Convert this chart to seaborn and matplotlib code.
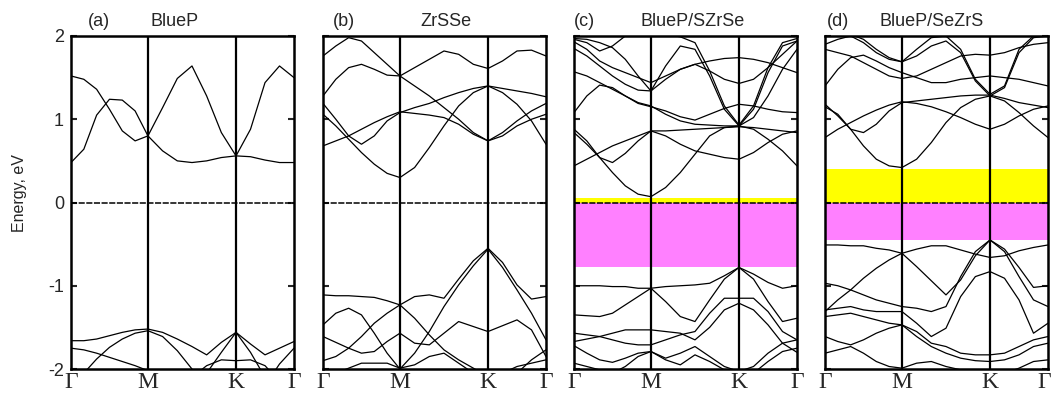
import numpy as np
import pandas as pd
import matplotlib
matplotlib.use("Agg")
import matplotlib.pyplot as plt
import matplotlib.transforms as mtransforms
import seaborn as sns

# ---------------- data ----------------
# k-path nodes (fraction of path length): Gamma-M (7), M-K (6 more), K-Gamma (4 more)
k_path = [0.0, 0.0575, 0.115, 0.1725, 0.23, 0.2875, 0.345,
          0.4108, 0.4767, 0.5425, 0.6083, 0.6742, 0.74,
          0.805, 0.87, 0.935, 1.0]
kpoint_pos = [0.0, 0.345, 0.74, 1.0]
kpoint_labels = ["Γ", "M", "K", "Γ"]
energy_ticks = [-2, -1, 0, 1, 2]
energy_ticklabels = ["-2", "-1", "0", "1", "2"]

panel_tags = ["(a)", "(b)", "(c)", "(d)"]
panel_names = ["BlueP", "ZrSSe", "BlueP/SZrSe", "BlueP/SeZrS"]

# (a) BlueP
a_c1 = [1.52, 1.48, 1.36, 1.12, 0.86, 0.74, 0.80, 0.62, 0.50, 0.48, 0.50, 0.54, 0.56, 0.55, 0.51, 0.48, 0.48]
a_c2 = [0.48, 0.64, 1.05, 1.24, 1.23, 1.10, 0.80, 1.14, 1.49, 1.64, 1.28, 0.84, 0.56, 0.88, 1.44, 1.64, 1.50]
a_v1 = [-1.66, -1.66, -1.64, -1.60, -1.56, -1.53, -1.52, -1.56, -1.64, -1.73, -1.83, -1.68, -1.56, -1.70, -1.83, -1.75, -1.67]
a_v2 = [-1.75, -1.77, -1.81, -1.86, -1.91, -1.96, -2.02, -2.20, -2.40, -2.50, -2.50, -2.50, -2.50, -2.40, -2.20, -1.94, -1.75]
a_v3 = [-2.40, -2.05, -1.88, -1.74, -1.64, -1.57, -1.54, -1.61, -1.78, -2.00, -2.20, -2.40, -2.50, -2.50, -2.50, -2.50, -2.50]
a_v4 = [-2.50, -2.50, -2.50, -2.50, -2.50, -2.50, -2.50, -2.50, -2.50, -2.30, -2.05, -1.80, -1.56, -1.80, -2.10, -2.40, -2.50]
a_v5 = [-2.50, -2.50, -2.50, -2.50, -2.50, -2.50, -2.50, -2.50, -2.30, -2.10, -1.96, -1.89, -1.90, -1.89, -1.96, -2.15, -2.40]

# (b) ZrSSe
b_c1 = [1.76, 1.88, 1.98, 1.94, 1.80, 1.66, 1.52, 1.62, 1.72, 1.82, 1.78, 1.66, 1.61, 1.70, 1.82, 1.83, 1.76]
b_c2 = [1.28, 1.48, 1.62, 1.66, 1.60, 1.53, 1.52, 1.40, 1.28, 1.14, 1.00, 0.84, 0.74, 0.84, 0.98, 1.10, 1.19]
b_c3 = [1.19, 1.00, 0.80, 0.70, 0.80, 0.98, 1.08, 1.14, 1.19, 1.26, 1.32, 1.37, 1.40, 1.37, 1.34, 1.31, 1.27]
b_c4 = [0.68, 0.74, 0.80, 0.88, 0.96, 1.03, 1.09, 1.07, 1.05, 1.02, 0.94, 0.82, 0.74, 0.80, 0.92, 1.00, 1.06]
b_c5 = [1.06, 0.92, 0.76, 0.60, 0.46, 0.35, 0.30, 0.42, 0.66, 0.92, 1.16, 1.32, 1.40, 1.32, 1.18, 0.98, 0.70]
b_v1 = [-1.11, -1.12, -1.12, -1.13, -1.14, -1.18, -1.23, -1.13, -1.11, -1.15, -0.92, -0.70, -0.55, -0.72, -0.99, -1.16, -1.13]
b_v2 = [-1.47, -1.33, -1.27, -1.35, -1.57, -1.81, -2.00, -1.81, -1.55, -1.25, -0.99, -0.76, -0.56, -0.78, -1.05, -1.33, -1.65]
b_v3 = [-1.61, -1.68, -1.75, -1.81, -1.79, -1.67, -1.57, -1.69, -1.71, -1.57, -1.43, -1.49, -1.55, -1.48, -1.41, -1.53, -1.85]
b_v4 = [-1.90, -1.85, -1.75, -1.61, -1.45, -1.33, -1.23, -1.39, -1.59, -1.77, -1.89, -1.99, -2.09, -2.13, -2.05, -1.89, -1.77]
b_v5 = [-2.05, -2.05, -1.99, -1.93, -1.93, -1.93, -1.99, -1.95, -1.85, -1.81, -1.93, -2.05, -2.13, -2.05, -1.97, -1.93, -1.89]

# (c) BlueP/SZrSe
c_c1 = [0.88, 0.74, 0.54, 0.36, 0.20, 0.10, 0.07, 0.18, 0.36, 0.58, 0.80, 0.90, 0.92, 0.88, 0.76, 0.62, 0.44]
c_c2 = [0.84, 0.70, 0.54, 0.48, 0.59, 0.74, 0.86, 0.80, 0.70, 0.62, 0.58, 0.54, 0.52, 0.60, 0.72, 0.82, 0.86]
c_c3 = [0.44, 0.52, 0.60, 0.68, 0.74, 0.80, 0.86, 0.86, 0.87, 0.88, 0.89, 0.90, 0.91, 0.90, 0.88, 0.86, 0.84]
c_c4 = [1.08, 1.28, 1.41, 1.38, 1.28, 1.19, 1.15, 1.10, 1.03, 0.99, 1.06, 1.13, 1.18, 1.16, 1.12, 1.09, 1.08]
c_c5 = [1.57, 1.52, 1.44, 1.36, 1.28, 1.20, 1.16, 1.06, 0.98, 0.94, 0.93, 0.92, 0.92, 1.02, 1.28, 1.60, 1.84]
c_c6 = [1.85, 1.76, 1.64, 1.52, 1.42, 1.35, 1.34, 1.64, 1.88, 1.84, 1.52, 1.12, 0.92, 1.12, 1.56, 1.88, 1.94]
c_c7 = [1.93, 1.84, 1.70, 1.62, 1.56, 1.50, 1.44, 1.52, 1.60, 1.66, 1.70, 1.73, 1.74, 1.72, 1.68, 1.62, 1.56]
c_c8 = [1.97, 1.96, 1.92, 1.86, 1.72, 1.52, 1.34, 1.48, 1.60, 1.66, 1.58, 1.48, 1.43, 1.48, 1.62, 1.78, 1.94]
c_c9 = [1.96, 1.92, 1.82, 1.88, 2.00, 2.06, 2.02, 2.02, 1.99, 1.92, 1.58, 1.16, 0.93, 1.16, 1.62, 1.92, 1.97]
c_v1 = [-1.00, -1.00, -1.00, -1.01, -1.01, -1.03, -1.03, -1.01, -1.00, -0.99, -0.97, -0.88, -0.78, -0.86, -0.96, -1.03, -1.00]
c_v2 = [-1.35, -1.36, -1.37, -1.33, -1.23, -1.13, -1.03, -1.19, -1.37, -1.43, -1.17, -0.92, -0.78, -0.92, -1.19, -1.43, -1.39]
c_v3 = [-1.57, -1.59, -1.61, -1.57, -1.53, -1.53, -1.53, -1.55, -1.57, -1.65, -1.50, -1.29, -1.21, -1.29, -1.47, -1.69, -1.80]
c_v4 = [-1.67, -1.64, -1.61, -1.65, -1.69, -1.71, -1.71, -1.65, -1.59, -1.55, -1.33, -1.15, -1.15, -1.15, -1.31, -1.55, -1.65]
c_v5 = [-1.72, -1.81, -1.89, -1.92, -1.87, -1.81, -1.79, -1.87, -1.81, -1.73, -1.85, -1.97, -2.03, -1.97, -1.81, -1.69, -1.65]
c_v6 = [-1.93, -1.97, -2.01, -2.05, -1.97, -1.85, -1.79, -1.89, -1.95, -1.83, -1.91, -2.01, -2.09, -2.05, -1.91, -1.79, -1.75]

# (d) BlueP/SeZrS
d_c1 = [1.15, 1.06, 0.88, 0.68, 0.52, 0.44, 0.42, 0.52, 0.72, 0.96, 1.14, 1.24, 1.28, 1.22, 1.08, 0.92, 0.78]
d_c2 = [0.78, 0.88, 0.96, 1.04, 1.11, 1.17, 1.21, 1.19, 1.15, 1.09, 1.02, 0.94, 0.88, 0.94, 1.04, 1.12, 1.16]
d_c3 = [1.18, 1.04, 0.88, 0.84, 0.94, 1.10, 1.20, 1.22, 1.24, 1.26, 1.28, 1.29, 1.29, 1.25, 1.20, 1.17, 1.14]
d_c4 = [1.40, 1.60, 1.74, 1.77, 1.70, 1.62, 1.56, 1.50, 1.44, 1.44, 1.48, 1.50, 1.52, 1.50, 1.48, 1.44, 1.40]
d_c5 = [1.90, 1.96, 2.00, 1.92, 1.80, 1.72, 1.69, 1.84, 1.98, 2.00, 1.84, 1.48, 1.30, 1.40, 1.84, 2.00, 2.04]
d_c6 = [2.04, 2.06, 2.02, 1.96, 1.84, 1.74, 1.69, 1.76, 1.88, 1.94, 1.80, 1.46, 1.28, 1.38, 1.80, 1.98, 2.00]
d_c7 = [1.84, 1.80, 1.76, 1.68, 1.60, 1.52, 1.49, 1.52, 1.60, 1.68, 1.76, 1.78, 1.77, 1.80, 1.86, 1.90, 1.92]
d_v1 = [-0.51, -0.51, -0.52, -0.52, -0.55, -0.57, -0.61, -0.56, -0.52, -0.52, -0.57, -0.62, -0.66, -0.64, -0.58, -0.54, -0.51]
d_v2 = [-1.31, -1.17, -1.05, -0.91, -0.79, -0.69, -0.61, -0.77, -0.94, -1.11, -0.93, -0.64, -0.45, -0.56, -0.78, -1.02, -1.00]
d_v3 = [-0.97, -1.00, -1.05, -1.11, -1.17, -1.21, -1.25, -1.27, -1.31, -1.25, -0.89, -0.59, -0.45, -0.59, -0.89, -1.17, -1.25]
d_v4 = [-1.29, -1.27, -1.25, -1.29, -1.31, -1.31, -1.31, -1.45, -1.61, -1.51, -1.13, -0.89, -0.83, -0.91, -1.17, -1.57, -1.45]
d_v5 = [-1.61, -1.67, -1.71, -1.65, -1.57, -1.51, -1.47, -1.55, -1.69, -1.73, -1.81, -1.83, -1.83, -1.81, -1.73, -1.65, -1.61]
d_v6 = [-1.37, -1.35, -1.33, -1.37, -1.41, -1.45, -1.47, -1.61, -1.73, -1.81, -1.87, -1.90, -1.91, -1.89, -1.83, -1.73, -1.69]
d_v7 = [-1.81, -1.77, -1.73, -1.81, -1.91, -1.97, -1.99, -1.93, -1.91, -1.97, -2.01, -2.05, -2.07, -2.05, -1.99, -1.91, -1.89]

panel_bands = [
    [a_c1, a_c2, a_v1, a_v2, a_v3, a_v4, a_v5],
    [b_c1, b_c2, b_c3, b_c4, b_c5, b_v1, b_v2, b_v3, b_v4, b_v5],
    [c_c1, c_c2, c_c3, c_c4, c_c5, c_c6, c_c7, c_c8, c_c9, c_v1, c_v2, c_v3, c_v4, c_v5, c_v6],
    [d_c1, d_c2, d_c3, d_c4, d_c5, d_c6, d_c7, d_v1, d_v2, d_v3, d_v4, d_v5, d_v6, d_v7],
]

# shaded regions (energy ranges): yellow above E_F, magenta below E_F
yellow_range = [None, None, (0.0, 0.06), (0.0, 0.40)]
magenta_range = [None, None, (-0.78, 0.0), (-0.45, 0.0)]

# ---------------- style ----------------
sns.set_style("ticks")
plt.rcParams["font.family"] = ["Liberation Sans", "DejaVu Sans"]

fig = plt.figure(figsize=(10.53, 4.03), dpi=100)

W, H = 1053.0, 403.0
lefts_px = [71, 323, 574, 825]
width_px = 223
top_px, bottom_px = 36, 369
tag_x = [0.076, 0.045, 0.0, 0.01]
name_x = [0.466, 0.55, 0.53, 0.48]

for i in range(4):
    ax = fig.add_axes([lefts_px[i] / W, 1 - bottom_px / H,
                       width_px / W, (bottom_px - top_px) / H])
    if yellow_range[i] is not None:
        ax.axhspan(yellow_range[i][0], yellow_range[i][1], color="#ffff00", lw=0, zorder=0.5)
    if magenta_range[i] is not None:
        ax.axhspan(magenta_range[i][0], magenta_range[i][1], color="#ff80ff", lw=0, zorder=0.5)

    rows = []
    for b, vals in enumerate(panel_bands[i]):
        for k, e in zip(k_path, vals):
            rows.append({"k": k, "E": e, "band": b})
    df = pd.DataFrame(rows)
    sns.lineplot(data=df, x="k", y="E", units="band", estimator=None, sort=False,
                 color="black", lw=0.9, ax=ax, legend=False, zorder=2)

    ax.axhline(0, color="black", lw=1.1, ls=(0, (4, 1)), zorder=3)
    for xp in kpoint_pos[1:3]:
        ax.axvline(xp, color="black", lw=1.6, zorder=4)

    ax.set_xlim(0, 1)
    ax.set_ylim(-2, 2)
    ax.set_xlabel("")
    ax.set_ylabel("")
    ax.set_xticks(kpoint_pos)
    ax.set_xticklabels(kpoint_labels, family=["Liberation Serif", "DejaVu Serif"], fontsize=17)
    ax.tick_params(axis="x", length=0, pad=2)
    if i == 3:
        last = ax.get_xticklabels()[-1]
        last.set_transform(last.get_transform() +
                           mtransforms.ScaledTranslation(-4 / 100, 0, fig.dpi_scale_trans))
    ax.set_yticks(energy_ticks)
    ax.tick_params(axis="y", direction="in", length=4, width=1.5, left=True, right=True,
                   labelsize=13, pad=5)
    if i == 0:
        ax.set_yticklabels(energy_ticklabels)
    else:
        ax.set_yticklabels([])
    for s in ax.spines.values():
        s.set_linewidth(1.8)
        s.set_color("black")
        s.set_zorder(5)

    ax.text(tag_x[i], 1.045, panel_tags[i], transform=ax.transAxes,
            ha="left", va="center", fontsize=13)
    ax.text(name_x[i], 1.045, panel_names[i], transform=ax.transAxes,
            ha="center", va="center", fontsize=13)

fig.text(20 / W, 1 - 193 / H, "Energy, eV", rotation=90, ha="center", va="center", fontsize=11.5)

fig.savefig("out.png", dpi=100)
